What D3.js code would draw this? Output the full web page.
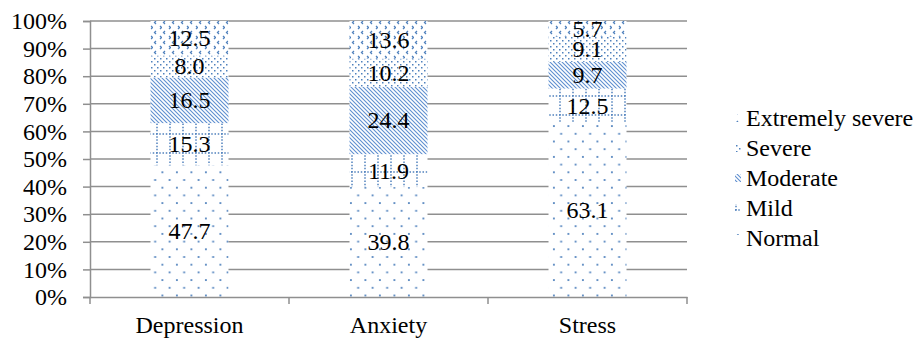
<!DOCTYPE html>
<html>
<head>
<meta charset="utf-8">
<script src="https://cdn.jsdelivr.net/npm/d3@7"></script>
<style>
  body { margin: 0; background: #fff; }
  svg { display: block; }
  svg text { font-family: "Liberation Serif", "Times New Roman", serif !important; fill: #000; }
</style>
</head>
<body>
<svg></svg>
<script>
const categories = ['Depression', 'Anxiety', 'Stress']
const levels = ['Normal', 'Mild', 'Moderate', 'Severe', 'Extremely severe']
const normal = [47.7, 39.8, 63.1]
const mild = [15.3, 11.9, 12.5]
const moderate = [16.5, 24.4, 9.7]
const severe = [8.0, 10.2, 9.1]
const extremelySevere = [12.5, 13.6, 5.7]
const yTicks = [0, 0.1, 0.2, 0.3, 0.4, 0.5, 0.6, 0.7, 0.8, 0.9, 1]

const width = 922
const height = 341
const plotLeft = 90, plotRight = 687, plotTop = 21, plotBottom = 297
const blue = '#4F81BD'
const grey = '#8f8f8f'

let svg = d3.select('svg').attr('width', width).attr('height', height)

let rows = categories.map((c, i) => ({
    cat: c,
    'Normal': normal[i],
    'Mild': mild[i],
    'Moderate': moderate[i],
    'Severe': severe[i],
    'Extremely severe': extremelySevere[i]
}))

let series = d3.stack().keys(levels).offset(d3.stackOffsetExpand)(rows)

let xScale = d3.scaleBand().domain(categories).range([plotLeft, plotRight])
let yScale = d3.scaleLinear().domain([0, 1]).range([plotBottom, plotTop])
let barW = 78

// patterns
let defs = svg.append('defs')

function makePattern(id, w, h, draw) {
    let p = defs.append('pattern')
        .attr('id', id)
        .attr('patternUnits', 'userSpaceOnUse')
        .attr('width', w)
        .attr('height', h)
    p.append('rect').attr('width', w).attr('height', h).attr('fill', '#fff')
    draw(p)
}

function dot(p, x, y, s) {
    p.append('rect').attr('x', x).attr('y', y).attr('width', s).attr('height', s).attr('fill', blue)
}

makePattern('p-normal', 14.5, 15.4, p => {
    dot(p, 2, 2, 1.8)
    dot(p, 9.25, 9.7, 1.8)
})

makePattern('p-mild', 13, 19, p => {
    p.append('line').attr('x1', 1).attr('y1', 0).attr('x2', 1).attr('y2', 19)
        .attr('stroke', blue).attr('stroke-width', 1.5).attr('stroke-dasharray', '1.5,1.67')
    p.append('line').attr('x1', 0).attr('y1', 1).attr('x2', 13).attr('y2', 1)
        .attr('stroke', blue).attr('stroke-width', 1.5).attr('stroke-dasharray', '1.5,1.75')
})

makePattern('p-moderate', 4, 4, p => {
    p.append('path').attr('d', 'M-1,-1 L5,5 M-1,3 L1,5 M3,-1 L5,1')
        .attr('stroke', '#5f8fd0').attr('stroke-width', 1.1)
})

makePattern('p-severe', 6, 6, p => {
    dot(p, 1, 1, 1.5)
    dot(p, 4, 4, 1.5)
})

makePattern('p-extreme', 9, 10, p => {
    p.append('path').attr('d', 'M3,1 L1.5,2.5 L3,4 M7,6 L8.5,7.5 L7,9')
        .attr('fill', 'none').attr('stroke', blue).attr('stroke-width', 1.3)
})

const patternOf = {
    'Normal': 'url(#p-normal)',
    'Mild': 'url(#p-mild)',
    'Moderate': 'url(#p-moderate)',
    'Severe': 'url(#p-severe)',
    'Extremely severe': 'url(#p-extreme)'
}

// gridlines
svg.append('g')
    .selectAll('line')
    .data(yTicks.slice(1))
    .enter()
    .append('line')
    .attr('x1', plotLeft).attr('x2', plotRight)
    .attr('y1', d => yScale(d)).attr('y2', d => yScale(d))
    .attr('stroke', grey).attr('stroke-width', 1.5)

// bars
let barsG = svg.append('g')
series.forEach(s => {
    barsG.append('g')
        .selectAll('rect')
        .data(s)
        .enter()
        .append('rect')
        .attr('x', d => xScale(d.data.cat) + (xScale.bandwidth() - barW) / 2)
        .attr('width', barW)
        .attr('y', d => yScale(d[1]))
        .attr('height', d => yScale(d[0]) - yScale(d[1]))
        .attr('fill', patternOf[s.key])
})

// value labels
series.forEach(s => {
    svg.append('g')
        .selectAll('text')
        .data(s)
        .enter()
        .append('text')
        .attr('x', d => xScale(d.data.cat) + xScale.bandwidth() / 2)
        .attr('y', d => yScale((d[0] + d[1]) / 2))
        .attr('dy', '0.33em')
        .attr('text-anchor', 'middle')
        .style('font-size', '24px')
        .text(d => d3.format('.1f')(d.data[s.key]))
})

// y axis
let yAxis = d3.axisLeft(yScale).tickValues(yTicks).tickFormat(d3.format('.0%')).tickSize(7).tickPadding(16)
let yg = svg.append('g')
    .attr('transform', 'translate(' + plotLeft + ',0)')
    .call(yAxis)
yg.select('.domain').attr('stroke', grey).attr('stroke-width', 1.5)
yg.selectAll('.tick line').attr('stroke', grey).attr('stroke-width', 1.5)
yg.selectAll('.tick text').style('font-size', '24px')

// x axis
let xAxis = d3.axisBottom(xScale).tickSize(0).tickPadding(19)
let xg = svg.append('g')
    .attr('transform', 'translate(0,' + plotBottom + ')')
    .call(xAxis)
xg.select('.domain').attr('stroke', grey).attr('stroke-width', 1.5)
xg.selectAll('.tick text').style('font-size', '24px')
let xBounds = [plotLeft].concat(categories.map(c => xScale(c) + xScale.bandwidth()))
xg.selectAll('.bound')
    .data(xBounds)
    .enter()
    .append('line')
    .attr('x1', d => d).attr('x2', d => d)
    .attr('y1', 0).attr('y2', 7)
    .attr('stroke', grey).attr('stroke-width', 1.5)

// legend
let legendOrder = levels.slice().reverse()
let legend = svg.append('g').attr('transform', 'translate(735,0)')
let legendY = d3.scalePoint().domain(legendOrder).range([118, 238])
legendOrder.forEach(k => {
    legend.append('rect')
        .attr('x', 0).attr('y', legendY(k) - 4)
        .attr('width', 6).attr('height', 8)
        .attr('fill', patternOf[k])
    legend.append('text')
        .attr('x', 11).attr('y', legendY(k))
        .attr('dy', '0.33em')
        .style('font-size', '24px')
        .text(k)
})
</script>
</body>
</html>
